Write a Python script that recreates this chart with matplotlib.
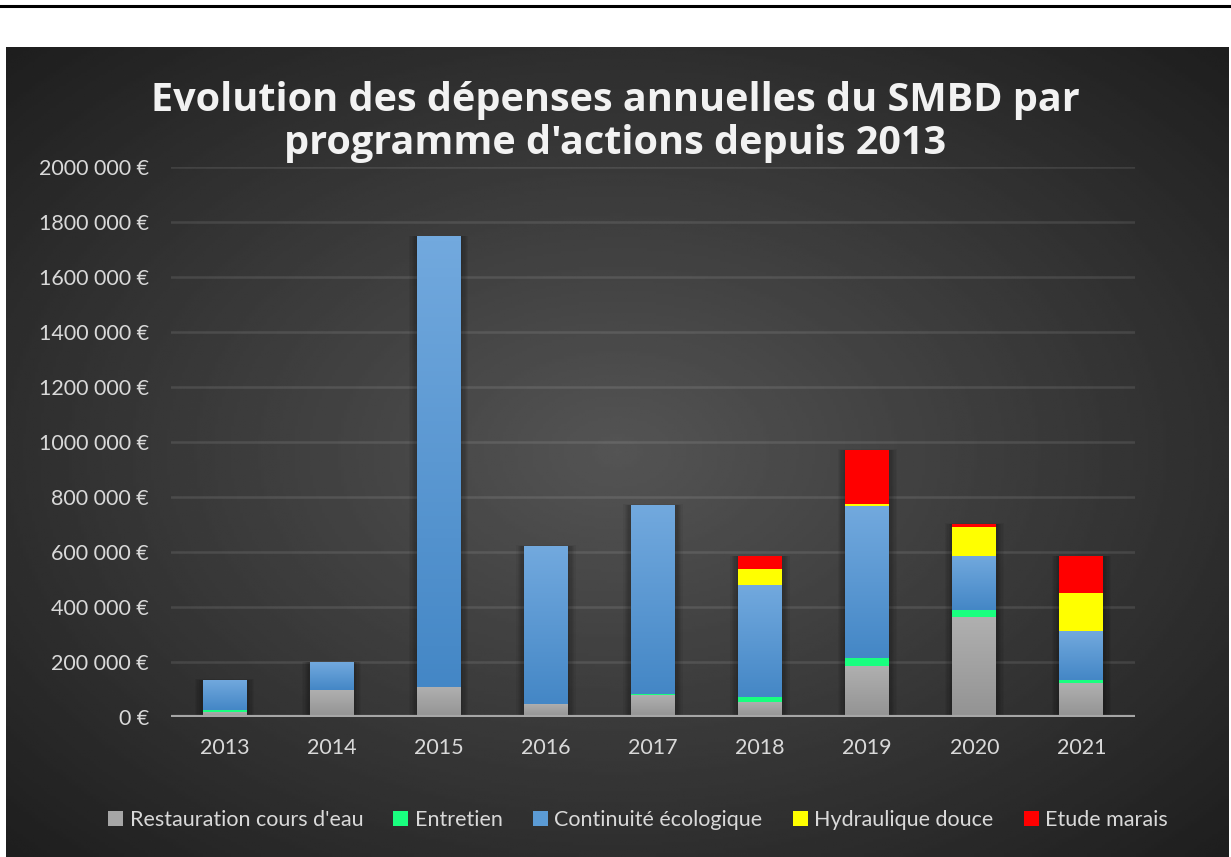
import matplotlib.pyplot as plt
import numpy as np
from matplotlib.colors import LinearSegmentedColormap
from matplotlib.patches import Rectangle

annees = ['2013', '2014', '2015', '2016', '2017', '2018', '2019', '2020', '2021']
restauration = [20000, 100000, 109000, 48000, 80000, 56000, 187000, 365000, 122000]
entretien = [5000, 0, 0, 0, 5000, 17000, 28000, 24000, 14000]
continuite = [110000, 100000, 1640000, 574000, 686000, 407000, 552000, 198000, 178000]
hydraulique = [0, 0, 0, 0, 0, 58000, 8000, 104000, 137000]
marais = [0, 0, 0, 0, 0, 47000, 196000, 11000, 134000]

series = [
    ("Restauration cours d'eau", restauration, '#a6a6a6'),
    ('Entretien', entretien, '#19ff7f'),
    ('Continuité écologique', continuite, '#5b9bd5'),
    ('Hydraulique douce', hydraulique, '#ffff00'),
    ('Etude marais', marais, '#ff0000'),
]
# degradés (haut, bas)
degrades = {
    "Restauration cours d'eau": ('#b0b0b0', '#939393'),
    'Continuité écologique': ('#72a9de', '#4487c6'),
}

plt.rcParams['font.family'] = ['Lato', 'DejaVu Sans']

fig = plt.figure(figsize=(12.31, 8.57), dpi=100)
fig.patch.set_facecolor('white')

# fond sombre avec degradé radial
bg = fig.add_axes([6 / 1231, 0, 1223 / 1231, 1 - 47 / 857])
yy, xx = np.mgrid[-1:1:300j, -1:1:400j]
r = np.sqrt(xx ** 2 + yy ** 2)
val = np.clip(0.33 - 0.15 * r, 0, 1)
bg.imshow(val, cmap='gray', vmin=0, vmax=1, aspect='auto', extent=[0, 1, 0, 1])
bg.set_axis_off()

# trait noir en haut
fig.add_artist(plt.Line2D([0, 1], [1 - 6 / 857, 1 - 6 / 857], color='black', lw=2.2))

ax = fig.add_axes([171 / 1231, 1 - 717 / 857, 964 / 1231, 550 / 857])
ax.patch.set_alpha(0)
x = np.arange(len(annees))
largeur = 0.41
totaux = np.sum([restauration, entretien, continuite, hydraulique, marais], axis=0)

# ombre douce autour des barres
for xi, t in zip(x, totaux):
    for k in range(6):
        d = 0.012 * (k + 1)
        ax.add_patch(Rectangle((xi - largeur / 2 - d, 0), largeur + 2 * d, t + d * 25000,
                               color='black', alpha=0.05, lw=0, zorder=2))

bas = np.zeros(len(annees))
for nom, vals, couleur in series:
    vals = np.array(vals, dtype=float)
    bars = ax.bar(x, vals, largeur, bottom=bas, color=couleur, label=nom, zorder=3)
    if nom in degrades:
        haut, fond = degrades[nom]
        cm = LinearSegmentedColormap.from_list(nom, [fond, haut])
        grad = np.linspace(0, 1, 100).reshape(-1, 1)
        for b in bars:
            h = b.get_height()
            if h <= 0:
                continue
            x0 = b.get_x()
            im = ax.imshow(grad, cmap=cm, origin='lower', aspect='auto',
                           extent=[x0, x0 + largeur, b.get_y(), b.get_y() + h], zorder=3.5)
            im.set_clip_path(b)
    bas += vals

ax.set_xlim(-0.5, 8.5)
ax.set_ylim(0, 2000000)
ticks = np.arange(0, 2000001, 200000)
ax.set_yticks(ticks)
ax.set_yticklabels([f"{int(v / 1000)} 000 €" if v > 0 else '0 €' for v in ticks])
ax.set_xticks(x)
ax.set_xticklabels(annees)
ax.tick_params(colors='#d9d9d9', labelsize=15.5, length=0)
ax.tick_params(axis='y', pad=16)
ax.tick_params(axis='x', pad=15)
ax.grid(axis='y', color='white', alpha=0.1, lw=1.8, zorder=1)
ax.axhline(0, color='#a6a6a6', lw=3, zorder=4)
for s in ax.spines.values():
    s.set_visible(False)

fig.text(0.5, 1 - 122 / 857, "Evolution des dépenses annuelles du SMBD par\nprogramme d'actions depuis 2013",
         ha='center', va='center', color='#f2f2f2', fontsize=28.5, fontweight='bold',
         family=['Open Sans', 'DejaVu Sans'], linespacing=1.12)

fig.legend(loc='center', bbox_to_anchor=(638 / 1231, 1 - 820 / 857), ncol=5, frameon=False,
           fontsize=15.5, labelcolor='#d9d9d9', handlelength=0.7, handleheight=0.7,
           handletextpad=0.3, columnspacing=1.4)

fig.savefig('out.png', dpi=100, facecolor=fig.get_facecolor())
